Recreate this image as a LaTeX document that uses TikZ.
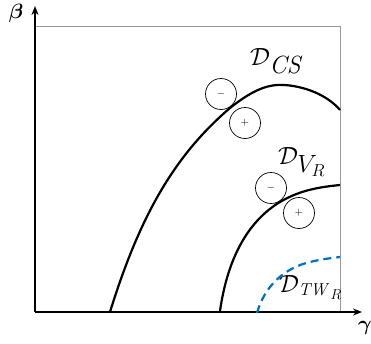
\documentclass[tikz,border=0pt]{standalone}
\usepackage{amsmath,bm}
\usetikzlibrary{arrows.meta}
\DeclareMathSizes{32}{32}{23}{18}
\DeclareMathSizes{30}{30}{19}{15}
\begin{document}
\begin{tikzpicture}[x=1pt,y=-1pt,
  axis/.style={line width=1.8pt,-{Stealth[length=9pt,width=7pt]}},
  frame/.style={draw=gray!80,line width=0.7pt},
  curve/.style={line width=2.2pt},
  tw/.style={line width=2.2pt,draw={rgb,255:red,0;green,112;blue,192},dash pattern=on 8pt off 5pt},
  sign/.style={circle,draw,line width=0.7pt,minimum size=31pt,inner sep=0pt,font=\fontsize{11}{12}\selectfont},
  lab/.style={inner sep=0pt,anchor=base west,font=\fontsize{32}{36}\selectfont}]
\useasboundingbox (0,0) rectangle (371,343);
\coordinate (O) at (35,312);
\coordinate (ytip) at (35,6);
\coordinate (xtip) at (362,312);
\draw[frame] (35,26) -- (340,26) -- (340,312);
\draw[axis] (O) -- (ytip);
\draw[axis] (O) -- (xtip);
\node[inner sep=0pt] (beta) at (16,13) {\fontsize{22}{24}\selectfont$\bm{\beta}$};
\node[inner sep=0pt] (gamma) at (365,328) {\fontsize{22}{24}\selectfont$\bm{\gamma}$};
\draw[curve] (110,312) .. controls (140,215) and (175,155) .. (230,108)
  .. controls (255,88) and (270,84) .. (285,85)
  .. controls (310,87) and (330,98) .. (340,110);
\draw[curve] (220,311) .. controls (228,255) and (250,220) .. (280,202)
  .. controls (300,190) and (320,187) .. (340,185);
\draw[tw] (257,313) .. controls (265,285) and (285,268) .. (310,262)
  .. controls (322,259) and (332,258) .. (340,257);
\node[sign] (m1) at (221,94) {$-$};
\node[sign] (p1) at (245,123) {$+$};
\node[sign] (m2) at (271,188) {$-$};
\node[sign] (p2) at (299,213) {$+$};
\node[lab] (dcs) at (250,65) {$\mathcal{D}_{\mathit{CS}}$};
\node[lab] (dvr) at (278,164) {$\mathcal{D}_{V_R}$};
\node[lab,font=\fontsize{30}{34}\selectfont] (dtw) at (279,292) {$\mathcal{D}_{\mathit{TW}_R}$};
\end{tikzpicture}
\end{document}
